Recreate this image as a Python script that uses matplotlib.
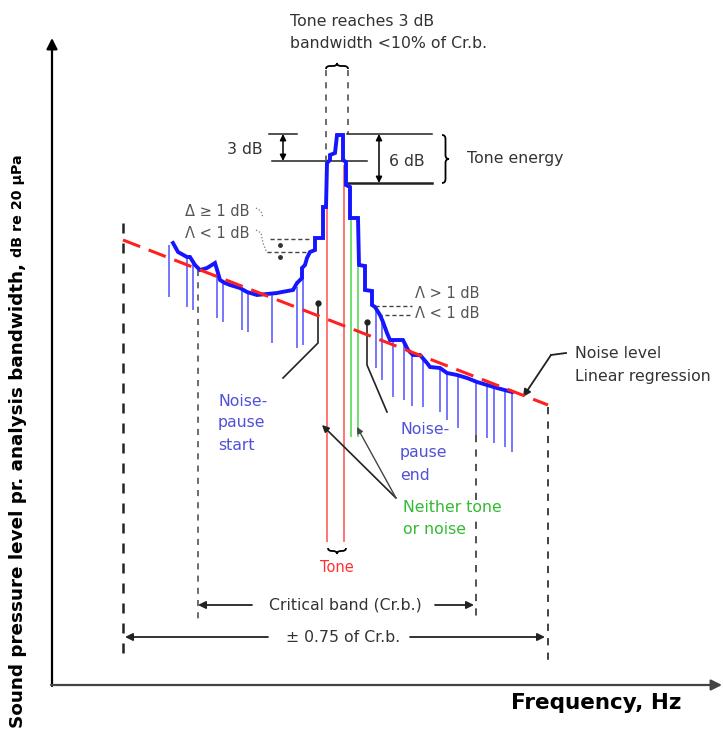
import matplotlib
matplotlib.use("Agg")
import matplotlib.pyplot as plt
from matplotlib.path import Path
from matplotlib.patches import PathPatch
import numpy as np

# ---------------- data (schematic, pixel-like units) ----------------
spec_x = [173,178,187,190,195,200,207,215,218,220,225,230,240,247,257,277,282,293,297,302,302,305,307,310,315,315,323,323,326,327,330,330,335,337,343,343,346,346,350,350,358,359,365,365,372,372,375,380,383,387,390,403,408,413,420,427,430,440,447,457,467,477,487,497,512]
spec_y = [243,252,257,257,265,270,268,263,273,280,283,285,288,292,295,293,292,290,283,278,268,265,258,252,250,238,238,207,207,163,160,155,153,135,135,160,162,185,187,218,218,265,266,290,291,305,307,315,322,333,340,340,350,355,355,363,367,368,373,375,378,382,385,388,392]

stem_x   = [169,187,193,217,223,242,248,272,297,303,376,382,393,404,412,423,440,447,458,476,487,494,505,512]
stem_top = [245,257,260,270,282,289,292,294,287,277,308,316,340,341,354,356,368,373,375,381,385,387,390,392]
stem_bot = [297,307,310,318,322,330,332,343,348,345,368,380,397,400,406,407,412,420,428,435,438,443,447,452]

regr_x = [123, 548]
regr_y = [240, 405]

tone_x   = [327, 344]
tone_top = [207, 165]
tone_bot = [542, 542]

neither_x   = [351, 358]
neither_top = [218, 267]
neither_bot = [437, 437]

# ---------------- figure ----------------
fig = plt.figure(figsize=(7.23, 7.31), dpi=100)
ax = fig.add_axes([0, 0, 1, 1])
ax.set_xlim(0, 723)
ax.set_ylim(731, 0)
ax.axis("off")

FS = 11.3
FAM = "DejaVu Sans"
TXT = "#333333"
BLUE_TXT = "#5050d8"
GREEN_TXT = "#33bb33"

# axes with arrows
ax.annotate("", xy=(52, 38), xytext=(52, 686),
            arrowprops=dict(arrowstyle="-|>", lw=1.6, color="black", mutation_scale=16, shrinkA=0, shrinkB=0))
ax.annotate("", xy=(722, 685), xytext=(51, 685),
            arrowprops=dict(arrowstyle="-|>", lw=1.6, color="#444444", mutation_scale=16, shrinkA=0, shrinkB=0))

# stems
ax.vlines(stem_x, stem_top, stem_bot, colors="#6b6bff", lw=1.3, zorder=2)

# tone / neither lines
ax.vlines(tone_x, tone_top, tone_bot, colors="#ff6b6b", lw=1.3, zorder=2)
ax.vlines(neither_x, neither_top, neither_bot, colors="#66dd66", lw=1.3, zorder=2)

# regression
ax.plot(regr_x, regr_y, color="#ff2020", lw=2.2, ls=(0, (6, 3)), zorder=4)

# spectrum
ax.plot(spec_x, spec_y, color="#1515ff", lw=2.8, zorder=3, solid_joinstyle="miter")

# dashed reference verticals
ax.plot([123, 123], [223, 658], color="#222222", lw=1.8, ls=(0, (4, 4)), zorder=1)
ax.plot([548, 548], [407, 660], color="#333333", lw=1.3, ls=(0, (4, 4)), zorder=1)
ax.plot([198, 198], [270, 620], color="#444444", lw=1.1, ls=(0, (4, 4)), zorder=1)
ax.plot([476, 476], [435, 622], color="#444444", lw=1.3, ls=(0, (4, 4)), zorder=1)
ax.plot([326, 326], [70, 160], color="#444444", lw=1.1, ls=(0, (4, 4)), zorder=1)
ax.plot([348, 348], [70, 134], color="#444444", lw=1.1, ls=(0, (4, 4)), zorder=1)


def hbrace(x0, x1, y, h, lw=1.3):
    xm = (x0 + x1) / 2
    r = min(abs(x1 - x0) / 4, 4)
    verts = [(x0, y), (x0, y + h / 2), (x0 + r, y + h / 2), (xm - r, y + h / 2), (xm, y + h / 2), (xm, y + h),
             (xm, y + h / 2), (xm + r, y + h / 2), (x1 - r, y + h / 2), (x1, y + h / 2), (x1, y)]
    codes = [Path.MOVETO, Path.CURVE3, Path.CURVE3, Path.LINETO, Path.CURVE3, Path.CURVE3,
             Path.CURVE3, Path.CURVE3, Path.LINETO, Path.CURVE3, Path.CURVE3]
    ax.add_patch(PathPatch(Path(verts, codes), fill=False, lw=lw, color="black", zorder=5))


def vbrace(y0, y1, x, w, lw=1.3):
    ym = (y0 + y1) / 2
    r = 4
    verts = [(x, y0), (x + w / 2, y0), (x + w / 2, y0 + r), (x + w / 2, ym - r), (x + w / 2, ym), (x + w, ym),
             (x + w / 2, ym), (x + w / 2, ym + r), (x + w / 2, y1 - r), (x + w / 2, y1), (x, y1)]
    codes = [Path.MOVETO, Path.CURVE3, Path.CURVE3, Path.LINETO, Path.CURVE3, Path.CURVE3,
             Path.CURVE3, Path.CURVE3, Path.LINETO, Path.CURVE3, Path.CURVE3]
    ax.add_patch(PathPatch(Path(verts, codes), fill=False, lw=lw, color="black", zorder=5))


hbrace(326, 348, 69, -6)
hbrace(328, 346, 548, 6)
vbrace(135, 183, 442, 7)

# 3 dB and 6 dB markers
ax.plot([269, 297], [134, 134], color="#222222", lw=1.1)
ax.plot([272, 367], [161, 161], color="#222222", lw=1.1)
ax.plot([347, 432], [134, 134], color="#222222", lw=1.1)
ax.plot([348, 432], [183, 183], color="#222222", lw=1.8)
ax.annotate("", xy=(283, 134), xytext=(283, 161),
            arrowprops=dict(arrowstyle="<|-|>", lw=1.1, color="black", mutation_scale=9, shrinkA=0, shrinkB=0))
ax.annotate("", xy=(379, 134), xytext=(379, 183),
            arrowprops=dict(arrowstyle="<|-|>", lw=1.1, color="black", mutation_scale=9, shrinkA=0, shrinkB=0))

# delta dashed leaders
ax.plot([270, 310], [239, 239], color="#444444", lw=1.0, ls=(0, (3, 2)))
ax.plot([267, 310], [252, 252], color="#444444", lw=1.0, ls=(0, (3, 2)))
ax.plot([375, 412], [306, 306], color="#444444", lw=1.0, ls=(0, (3, 2)))
ax.plot([378, 412], [315, 315], color="#444444", lw=1.0, ls=(0, (3, 2)))
ax.plot([256, 261, 263], [208, 211, 218], color="#777777", lw=0.9, ls=":")
ax.plot([256, 261, 263, 267], [230, 233, 243, 253], color="#777777", lw=0.9, ls=":")
ax.plot([280, 280], [245, 257], color="#333333", lw=0, marker="o", ms=2.5)

# pointer lines
ax.plot([318, 318, 283], [303, 343, 378], color="#222222", lw=1.2)
ax.plot([318], [303], "o", color="#222222", ms=3.5)
ax.plot([367, 367, 387], [322, 365, 412], color="#222222", lw=1.2)
ax.plot([367], [322], "o", color="#222222", ms=3.5)
ax.annotate("", xy=(322, 425), xytext=(396, 498),
            arrowprops=dict(arrowstyle="-|>", lw=1.2, color="#222222", mutation_scale=10, shrinkA=0, shrinkB=0))
ax.annotate("", xy=(357, 427), xytext=(396, 498),
            arrowprops=dict(arrowstyle="-|>", lw=1.0, color="#444444", mutation_scale=9, shrinkA=0, shrinkB=0))
ax.plot([566, 551], [353, 355], color="#222222", lw=1.3)
ax.annotate("", xy=(523, 397), xytext=(551, 355),
            arrowprops=dict(arrowstyle="-|>", lw=1.3, color="#222222", mutation_scale=11, shrinkA=0, shrinkB=0))

# critical band arrows
ax.annotate("", xy=(198, 605), xytext=(252, 605),
            arrowprops=dict(arrowstyle="-|>", lw=1.3, color="#222222", mutation_scale=11, shrinkA=0, shrinkB=0))
ax.annotate("", xy=(474, 605), xytext=(435, 605),
            arrowprops=dict(arrowstyle="-|>", lw=1.3, color="#222222", mutation_scale=11, shrinkA=0, shrinkB=0))
ax.annotate("", xy=(125, 637), xytext=(268, 637),
            arrowprops=dict(arrowstyle="-|>", lw=1.3, color="#222222", mutation_scale=11, shrinkA=0, shrinkB=0))
ax.annotate("", xy=(545, 637), xytext=(410, 637),
            arrowprops=dict(arrowstyle="-|>", lw=1.3, color="#222222", mutation_scale=11, shrinkA=0, shrinkB=0))

# ---------------- texts ----------------
def t(x, y, s, ha="left", color=TXT, size=FS, **kw):
    ax.text(x, y, s, ha=ha, va="center", color=color, fontsize=size, family=FAM, **kw)

t(290, 22, "Tone reaches 3 dB")
t(290, 44, "bandwidth <10% of Cr.b.")
t(245, 150, "3 dB", ha="center")
t(407, 161, "6 dB", ha="center")
t(467, 158, "Tone energy")
t(185, 212, "Δ ≥ 1 dB", color="#555555", size=10.5)
t(185, 233, "Λ < 1 dB", color="#555555", size=10.5)
t(415, 294, "Λ > 1 dB", color="#555555", size=10.5)
t(415, 313, "Λ < 1 dB", color="#555555", size=10.5)
t(575, 353, "Noise level")
t(575, 376, "Linear regression")
for yy, s in zip([402, 423, 445], ["Noise-", "pause", "start"]):
    t(218, yy, s, color=BLUE_TXT)
for yy, s in zip([430, 452, 475], ["Noise-", "pause", "end"]):
    t(400, yy, s, color=BLUE_TXT)
t(403, 508, "Neither tone", color=GREEN_TXT, bbox=dict(fc="white", ec="none", pad=0.5), zorder=6)
t(403, 530, "or noise", color=GREEN_TXT)
t(337, 568, "Tone", ha="center", color="#ff3030", size=10.5)
t(345, 605, "Critical band (Cr.b.)", ha="center")
t(343, 637, "± 0.75 of Cr.b.", ha="center")

ax.text(681, 703, "Frequency, Hz", ha="right", va="center", fontsize=15.5, fontweight="bold",
        family=FAM, color="black")

yl1 = ax.text(18, 728, "Sound pressure level pr. analysis bandwidth, ", rotation=90, rotation_mode="anchor",
              ha="left", va="center", fontsize=13.2, fontweight="bold", family=FAM, color="black")
fig.canvas.draw()
bb = yl1.get_window_extent()
top_px = fig.transFigure.inverted().transform((0, bb.y1))[1]
ytop = 731 * (1 - top_px)
ax.text(18, ytop, "dB re 20 µPa", rotation=90, rotation_mode="anchor",
        ha="left", va="center", fontsize=10.3, fontweight="bold", family=FAM, color="black")

fig.savefig("out.png", dpi=100)
